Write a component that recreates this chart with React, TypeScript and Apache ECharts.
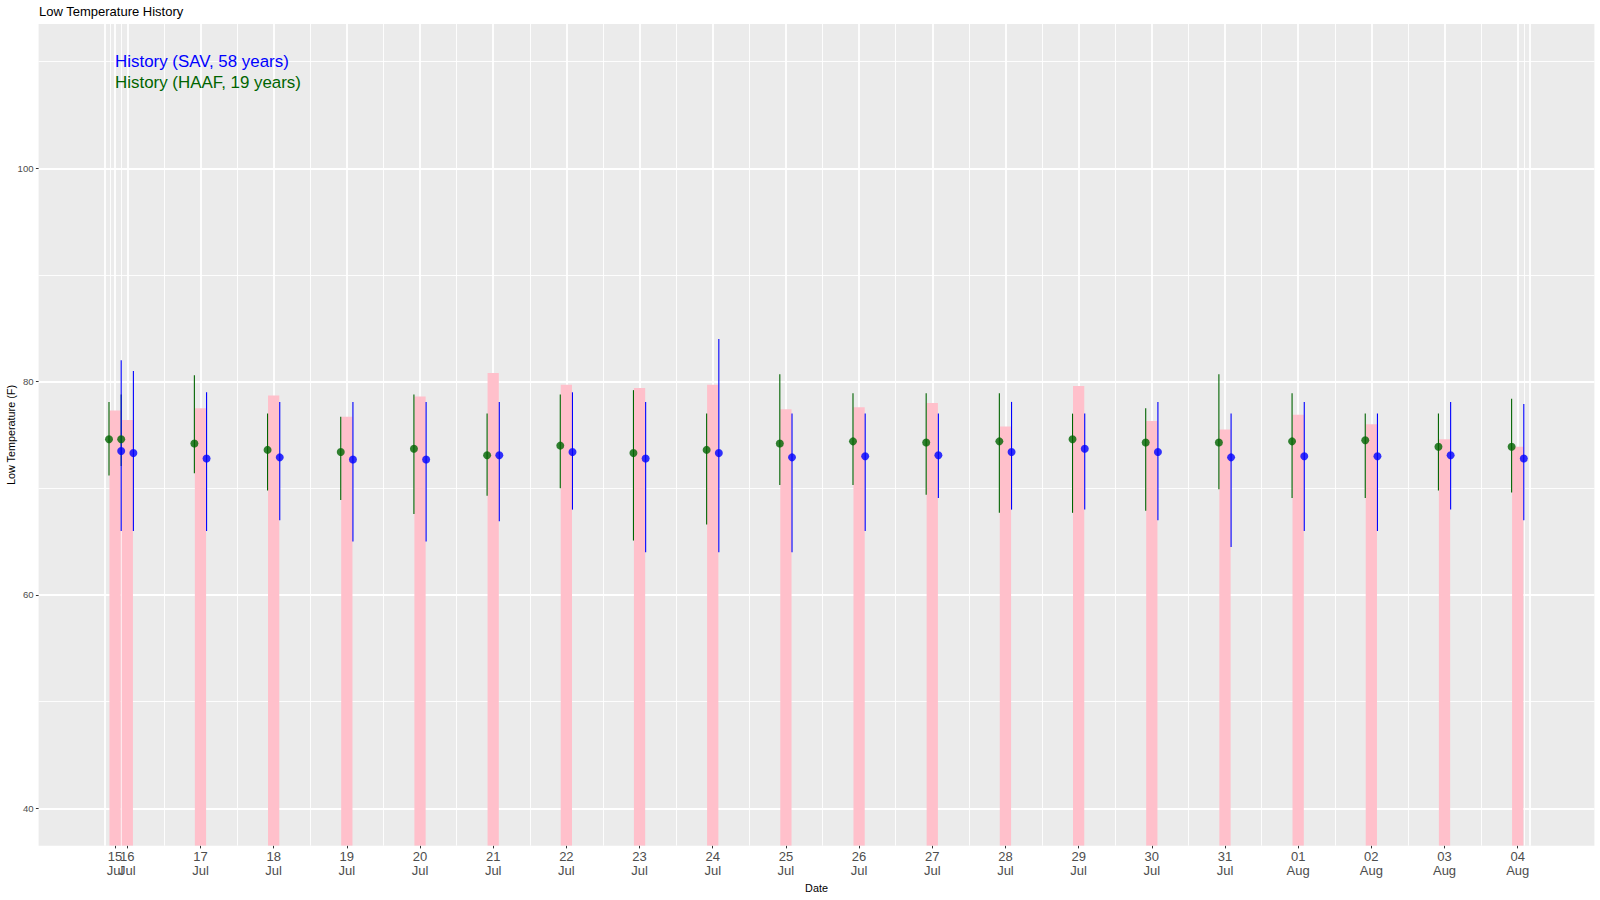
import React, { useEffect, useRef } from "react";
import * as echarts from "echarts";

// ---- data ----
const dateLabels = [
  "15\nJul", "16\nJul", "17\nJul", "18\nJul", "19\nJul", "20\nJul", "21\nJul",
  "22\nJul", "23\nJul", "24\nJul", "25\nJul", "26\nJul", "27\nJul", "28\nJul",
  "29\nJul", "30\nJul", "31\nJul", "01\nAug", "02\nAug", "03\nAug", "04\nAug",
];
// day number (16 Jul = 16 ... 04 Aug = 35); first entry sits 4 hours before 16 Jul
const dayNumbers = [
  15.8333, 16, 17, 18, 19, 20, 21, 22, 23, 24, 25, 26, 27, 28, 29, 30, 31, 32, 33, 34, 35,
];
const pinkTop = [
  77.3, 76.4, 77.5, 78.7, 76.7, 78.6, 80.8, 79.7, 79.4, 79.7, 77.4, 77.6, 78.0, 75.8,
  79.6, 76.3, 75.5, 76.9, 76.0, 74.6, 73.9,
];
const savMean = [
  73.5, 73.3, 72.8, 72.9, 72.7, 72.7, 73.1, 73.4, 72.8, 73.3, 72.9, 73.0, 73.1, 73.4,
  73.7, 73.4, 72.9, 73.0, 73.0, 73.1, 72.8,
];
const savMin = [
  66, 66, 66, 67, 65, 65, 66.9, 68, 64, 64, 64, 66, 69.1, 68, 68, 67, 64.5, 66, 66, 68, 67,
];
const savMax = [
  82, 81, 79, 78.1, 78.1, 78.1, 78.1, 79, 78.1, 84, 77, 77, 77, 78.1, 77, 78.1, 77, 78.1,
  77, 78.1, 77.9,
];
const haafMean = [
  74.6, 74.6, 74.2, 73.6, 73.4, 73.7, 73.1, 74.0, 73.3, 73.6, 74.2, 74.4, 74.3, 74.4,
  74.6, 74.3, 74.3, 74.4, 74.5, 73.9, 73.9,
];
const haafMin = [
  71.2, 72.1, 71.4, 69.8, 68.9, 67.6, 69.3, 70.0, 65.1, 66.6, 70.3, 70.3, 69.4, 67.7,
  67.7, 67.9, 69.9, 69.1, 69.1, 69.8, 69.6,
];
const haafMax = [
  78.1, 78.8, 80.6, 77.0, 76.7, 78.8, 77.0, 78.8, 79.2, 77.0, 80.7, 78.9, 78.9, 78.9,
  77.0, 77.5, 80.7, 78.9, 77.0, 77.0, 78.4,
];
const yTicks = [40, 60, 80, 100];
const yMinorTicks = [50, 70, 90, 110];
const xMajorGrid = [15.69, ...dayNumbers, 35.1667];
const annotations = [
  { text: "History (SAV, 58 years)", x: 15.8333, y: 110, color: "#0000FF" },
  { text: "History (HAAF, 19 years)", x: 15.8333, y: 108, color: "#006400" },
];

// ---- layout/style constants ----
const X_MIN = 14.788;
const X_MAX = 36.048;
const Y_MIN = 36.49;
const Y_MAX = 113.53;
const OFFSET = 2 / 24; // stations drawn 2 hours either side of the day
const BAR_HALF = 0.077;
const FONT = "Liberation Sans, Arial, Helvetica, sans-serif";
const GREEN = "#006400";
const BLUE = "#0000FF";

const xMinorGrid = xMajorGrid.slice(1).map((v, i) => (v + xMajorGrid[i]) / 2);

export default function App() {
  const ref = useRef<HTMLDivElement>(null);
  useEffect(() => {
    document.body.style.margin = "0";
    const chart = echarts.init(ref.current!, null, { renderer: "svg" });

    const labelFor = (v: number) => {
      const i = dayNumbers.findIndex((d) => Math.abs(d - v) < 1e-6);
      return i >= 0 ? dateLabels[i] : "";
    };

    const hiddenX = (values: number[], width: number) => ({
      type: "value",
      min: X_MIN,
      max: X_MAX,
      position: "bottom",
      axisLine: { show: false, onZero: false },
      axisTick: { show: false, customValues: values },
      axisLabel: { show: false },
      splitLine: { show: true, lineStyle: { color: "#FFFFFF", width } },
      silent: true,
    });

    // tick/label axes: the two close labels (15 and 16 Jul) live on separate axes
    const labelX = (values: number[]) => ({
      type: "value",
      min: X_MIN,
      max: X_MAX,
      position: "bottom",
      axisLine: { show: false, onZero: false },
      axisTick: {
        show: true,
        customValues: values,
        length: 2.7,
        lineStyle: { color: "#333333", width: 1 },
      },
      axisLabel: {
        show: true,
        customValues: values,
        formatter: (v: number) => labelFor(v),
        color: "#4D4D4D",
        fontSize: 13,
        lineHeight: 13.5,
        fontFamily: FONT,
        margin: 4.5,
        showMinLabel: true,
        showMaxLabel: true,
        hideOverlap: false,
      },
      splitLine: { show: false },
    });

    const option: any = {
      animation: false,
      backgroundColor: "#FFFFFF",
      textStyle: { fontFamily: FONT },
      grid: {
        left: 38.6,
        top: 24,
        width: 1555.8,
        height: 821.7,
        show: true,
        backgroundColor: "#EBEBEB",
        borderWidth: 0,
        containLabel: false,
      },
      xAxis: [
        labelX(dayNumbers.slice(1)),
        hiddenX(xMajorGrid, 1.8),
        hiddenX(xMinorGrid, 0.9),
        labelX(dayNumbers.slice(0, 1)),
      ],
      yAxis: [
        {
          type: "value",
          min: Y_MIN,
          max: Y_MAX,
          axisLine: { show: false, onZero: false },
          axisTick: {
            show: true,
            customValues: yTicks,
            length: 2.7,
            lineStyle: { color: "#333333", width: 1 },
          },
          axisLabel: {
            show: true,
            customValues: yTicks,
            color: "#4D4D4D",
            fontSize: 9.6,
            fontFamily: FONT,
            margin: 5,
            showMinLabel: true,
            showMaxLabel: true,
          },
          splitLine: { show: true, lineStyle: { color: "#FFFFFF", width: 1.8 } },
        },
        {
          type: "value",
          min: Y_MIN,
          max: Y_MAX,
          axisLine: { show: false, onZero: false },
          axisTick: { show: false, customValues: yMinorTicks },
          axisLabel: { show: false },
          splitLine: { show: true, lineStyle: { color: "#FFFFFF", width: 0.9 } },
        },
      ],
      series: [
        {
          type: "custom",
          name: "bars",
          xAxisIndex: 0,
          yAxisIndex: 0,
          z: 2,
          clip: true,
          data: dayNumbers.map((d, i) => [d, pinkTop[i]]),
          encode: { x: 0, y: 1 },
          renderItem: (_p: any, api: any) => {
            const x = api.value(0);
            const top = api.value(1);
            const a = api.coord([x - BAR_HALF, top]);
            const b = api.coord([x + BAR_HALF, Y_MIN]);
            return {
              type: "rect",
              shape: { x: a[0], y: a[1], width: b[0] - a[0], height: b[1] - a[1] },
              style: { fill: "#FFC0CB" },
            };
          },
        },
        ...[
          { off: -OFFSET, lo: haafMin, hi: haafMax, color: GREEN, name: "HAAF range" },
          { off: OFFSET, lo: savMin, hi: savMax, color: BLUE, name: "SAV range" },
        ].map((s) => ({
          type: "custom",
          name: s.name,
          xAxisIndex: 0,
          yAxisIndex: 0,
          z: 3,
          data: dayNumbers.map((d, i) => [d + s.off, s.lo[i], s.hi[i]]),
          encode: { x: 0, y: [1, 2] },
          renderItem: (_p: any, api: any) => {
            const x = api.value(0);
            const a = api.coord([x, api.value(1)]);
            const b = api.coord([x, api.value(2)]);
            return {
              type: "line",
              shape: { x1: a[0], y1: a[1], x2: b[0], y2: b[1] },
              style: { stroke: s.color, lineWidth: 1.1 },
            };
          },
        })),
        {
          type: "scatter",
          name: "HAAF",
          xAxisIndex: 0,
          yAxisIndex: 0,
          z: 4,
          symbol: "circle",
          symbolSize: 8,
          itemStyle: { color: GREEN },
          data: dayNumbers.map((d, i) => [d - OFFSET, haafMean[i]]),
        },
        {
          type: "scatter",
          name: "SAV",
          xAxisIndex: 0,
          yAxisIndex: 0,
          z: 4,
          symbol: "circle",
          symbolSize: 8,
          itemStyle: { color: BLUE },
          data: dayNumbers.map((d, i) => [d + OFFSET, savMean[i]]),
        },
        {
          type: "custom",
          name: "annotations",
          xAxisIndex: 0,
          yAxisIndex: 0,
          z: 5,
          data: annotations.map((a) => [a.x, a.y]),
          encode: { x: 0, y: 1 },
          renderItem: (p: any, api: any) => {
            const a = annotations[p.dataIndex];
            const pt = api.coord([api.value(0), api.value(1)]);
            return {
              type: "text",
              x: pt[0],
              y: pt[1],
              style: {
                text: a.text,
                fill: a.color,
                fontSize: 16.9,
                fontFamily: FONT,
                align: "left",
                verticalAlign: "middle",
              },
            };
          },
        },
      ],
      graphic: [
        {
          type: "text",
          x: 39,
          y: 11,
          style: {
            text: "Low Temperature History",
            fill: "#000000",
            fontSize: 13,
            fontFamily: FONT,
            align: "left",
            verticalAlign: "middle",
          },
        },
        {
          type: "text",
          x: 10.5,
          y: 435,
          rotation: Math.PI / 2,
          style: {
            text: "Low Temperature (F)",
            fill: "#000000",
            fontSize: 10.8,
            fontFamily: FONT,
            align: "center",
            verticalAlign: "middle",
          },
        },
        {
          type: "text",
          x: 816.5,
          y: 888,
          style: {
            text: "Date",
            fill: "#000000",
            fontSize: 10.8,
            fontFamily: FONT,
            align: "center",
            verticalAlign: "middle",
          },
        },
      ],
    };
    chart.setOption(option);
    return () => chart.dispose();
  }, []);
  return <div ref={ref} style={{ width: 1600, height: 900 }} />;
}
